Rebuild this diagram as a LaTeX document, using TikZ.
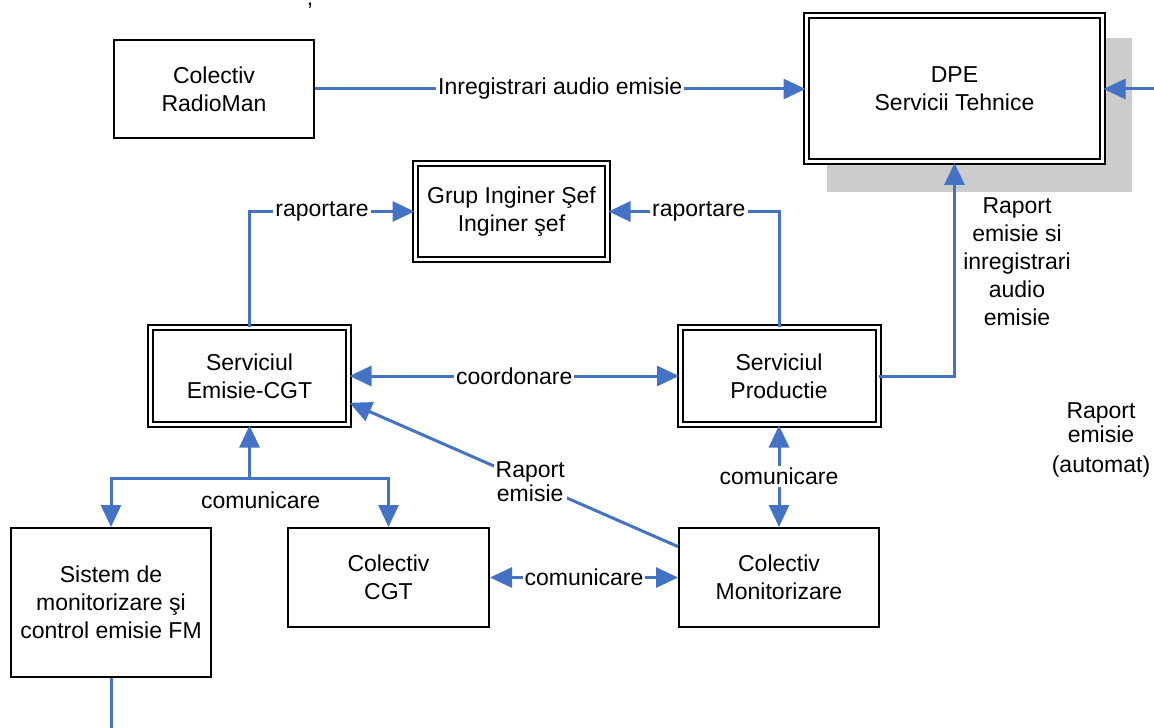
\documentclass[tikz,border=0pt]{standalone}
\usepackage{fontspec}
\setmainfont{Liberation Sans}
\usetikzlibrary{arrows.meta,positioning,backgrounds}
\definecolor{linkblue}{HTML}{4472C4}
\tikzset{font=\fontsize{11.5}{14}\selectfont}
\tikzstyle{unit}=[draw,line width=1pt,align=center,inner sep=2pt]
\tikzstyle{dunit}=[draw,double,double distance=1.5pt,line width=1pt,align=center,inner sep=2pt]
\tikzstyle{lbl}=[fill=white,text=black,inner sep=1pt,align=center]
\tikzstyle{link}=[color=linkblue,line width=1.5pt,>={Triangle[length=11pt,width=10pt]}]
\begin{document}
\begin{tikzpicture}[x=0.5pt,y=-0.5pt]
\useasboundingbox (0,0) rectangle (1154,727);
\node[anchor=base] (mark) at (310,6) {,};
\node[unit,minimum width=100pt,minimum height=49pt] (radio) at (214,89) {Colectiv\\RadioMan};
\node[dunit,minimum width=148pt,minimum height=73pt,fill=white] (dpe) at (954.5,89) {DPE\\Servicii Tehnice};
\begin{scope}[on background layer]
\fill[black!20] ([shift={(21,23)}]dpe.north west) rectangle ([shift={(28,29)}]dpe.south east);
\end{scope}
\node[dunit,minimum width=96pt,minimum height=48pt] (grup) at (511.5,211.5) {Grup Inginer Şef\\Inginer şef};
\node[dunit,minimum width=99pt,minimum height=48.5pt] (emisie) at (249.5,376) {Serviciul\\Emisie-CGT};
\node[dunit,minimum width=99pt,minimum height=48.5pt] (prod) at (779,376) {Serviciul\\Productie};
\node[unit,minimum width=100pt,minimum height=74.5pt] (sistem) at (111,602.5) {Sistem de\\monitorizare şi\\control emisie FM};
\node[unit,minimum width=100.5pt,minimum height=49.5pt] (cgt) at (388.5,577.5) {Colectiv\\CGT};
\node[unit,minimum width=100pt,minimum height=49.5pt] (mon) at (779,577.5) {Colectiv\\Monitorizare};
%\node (ext) at (1154,89) {};
\coordinate (dpein) at (1160,89);
\coordinate (split) at (249.5,478);
\coordinate (sysout) at (111,735);
\node[align=center] (rapdpe) at (1017,262) {Raport\\emisie si\\inregistrari\\audio\\emisie};
\node[align=center,font=\fontsize{11.5}{12}\selectfont] (rapauto) at (1101,440) {Raport\\emisie\\[3pt](automat)};
\path[link,->]
(radio) edge node[lbl]{Inregistrari audio emisie} (dpe)
(dpein) edge (dpe.east)
(split) edge (emisie.south)
(mon.163) edge node[lbl,pos=0.45,font=\fontsize{11.5}{12}\selectfont]{Raport\\emisie} (emisie.-15);
\path[link,<->]
(emisie) edge node[lbl]{coordonare} (prod)
(prod) edge node[lbl]{comunicare} (mon)
(cgt) edge node[lbl]{comunicare} (mon);
\draw[link,->] (emisie.north) |- node[lbl,pos=0.72]{raportare} (grup.west);
\draw[link,->] (prod.north) |- node[lbl,pos=0.735]{raportare} (grup.east);
\draw[link,->] (prod.east) -| (dpe.south);
\draw[link,->] (split) -| (sistem.north);
\draw[link,->] (split) -| node[pos=0.04,below=3pt,text=black]{comunicare} (cgt.north);
\draw[link] (sistem.south) -- (sysout);
\end{tikzpicture}
\end{document}
